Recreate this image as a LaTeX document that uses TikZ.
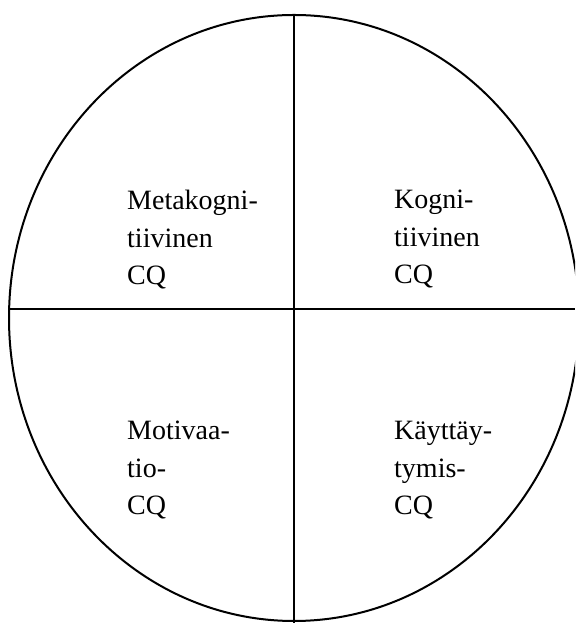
\documentclass[tikz,border=0pt]{standalone}
\usepackage{fontspec}
\setmainfont{Liberation Serif}
\usepackage{tikz}
\usetikzlibrary{positioning, calc}

\begin{document}
\begin{tikzpicture}[x=1pt, y=1pt,
    lbl/.style={anchor=north west, align=left, inner sep=0pt,
        font=\fontsize{28}{37.5}\selectfont}]
    \useasboundingbox (0,0) rectangle (575,623);
    \clip (0,0) rectangle (575,623);
    % Outer ellipse
    \coordinate (c) at (294,305);
    \draw[line width=2pt] (c) ellipse [x radius=285, y radius=303];
    % Quadrant lines
    \coordinate (top) at (294,608);
    \coordinate (bottom) at (294,0);
    \coordinate (left) at (9,314);
    \coordinate (right) at (575,314);
    \draw[line width=2pt] (top) -- (bottom);
    \draw[line width=2pt] (left) -- (right);
    % Labels
    \node[lbl] (meta) at (127,433) {Metakogni-\\tiivinen\\CQ};
    \node[lbl] (kogn) at (394,433) {Kogni-\\tiivinen\\CQ};
    \node[lbl] (moti) at (127,202) {Motivaa-\\tio-\\CQ};
    \node[lbl] (kayt) at (394,202) {Käyttäy-\\tymis-\\CQ};
\end{tikzpicture}
\end{document}
